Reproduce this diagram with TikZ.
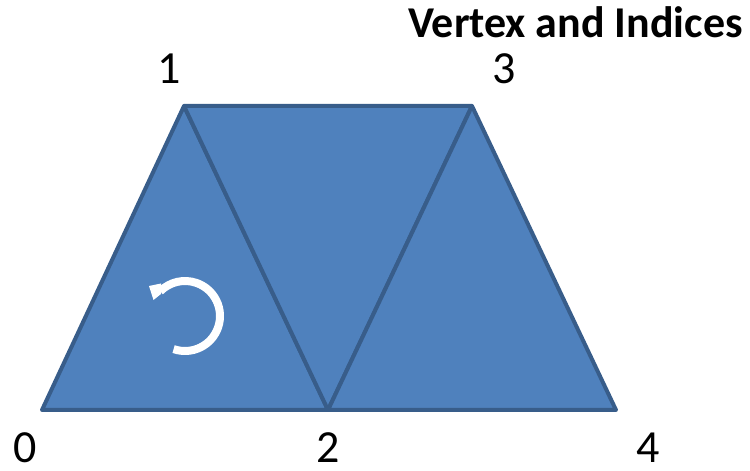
\documentclass[tikz,border=0pt]{standalone}
\usepackage{fontspec}
\setmainfont{Carlito}
\definecolor{trifill}{HTML}{4F81BD}
\definecolor{tristroke}{HTML}{385D8A}
\begin{document}
\begin{tikzpicture}[x=1pt,y=1pt,
  tri/.style={fill=trifill,draw=tristroke,line width=4pt,line join=round},
  vlabel/.style={font=\fontsize{46}{50}\selectfont,inner sep=0pt,anchor=base},
  turn/.style={draw=white,line width=8pt},
  turnhead/.style={fill=white}]
\useasboundingbox (0,0) rectangle (750,471);
\coordinate (v0) at (42,61);
\coordinate (v1) at (184,365);
\coordinate (v2) at (328,61);
\coordinate (v3) at (472,365);
\coordinate (v4) at (616,61);
\draw[tri] (v0) -- (v1) -- (v2) -- cycle;
\draw[tri] (v1) -- (v3) -- (v2) -- cycle;
\draw[tri] (v2) -- (v3) -- (v4) -- cycle;
\node[vlabel] (l1) at (169,387) {1};
\node[vlabel] (l3) at (504,387) {3};
\node[vlabel] (l0) at (25,8) {0};
\node[vlabel] (l2) at (328,8) {2};
\node[vlabel] (l4) at (648,8) {4};
\node[font=\bfseries\fontsize{44}{48}\selectfont,inner sep=0pt,anchor=base east] (title) at (743,433.5) {Vertex and Indices};
\coordinate (c) at (185,155);
\draw[turn] ([shift={(-109:35)}]c) arc[start angle=-109,end angle=135,radius=35];
\fill[turnhead] (149,185) -- (153.5,171) -- (161,177) -- (161,187.5) -- cycle;
\end{tikzpicture}
\end{document}
